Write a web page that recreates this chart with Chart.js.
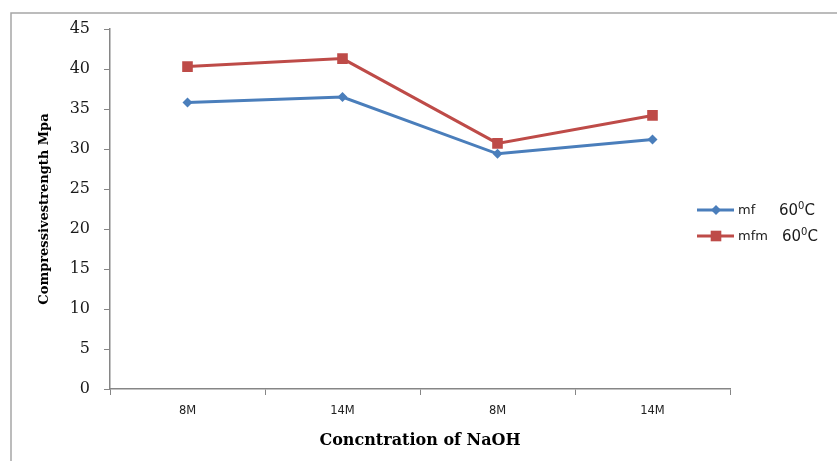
<!DOCTYPE html>
<html>
<head>
<meta charset="utf-8">
<script src="https://cdn.jsdelivr.net/npm/chart.js@4.4.1/dist/chart.umd.min.js"></script>
<style>
  html, body { margin: 0; padding: 0; background: #fff; }
  #wrap { width: 837px; height: 461px; position: relative; }
</style>
</head>
<body>
<div id="wrap"><canvas id="strength-chart" width="837" height="461"></canvas></div>
<script>
const categories = ["8M", "14M", "8M", "14M"];
const mfValues = [35.8, 36.5, 29.4, 31.2];
const mfmValues = [40.3, 41.3, 30.7, 34.2];
const seriesNames = ["mf", "mfm"];
const tempLabel = "60";

const blue = '#4A7EBB';
const red = '#BE4B48';
const axisGray = '#868686';

// frame around the chart (left + top edges only are visible in the picture)
const framePlugin = {
  id: 'frame',
  beforeDraw(chart) {
    const ctx = chart.ctx;
    ctx.save();
    ctx.fillStyle = '#fff';
    ctx.fillRect(0, 0, chart.width, chart.height);
    ctx.strokeStyle = '#a6a6a6';
    ctx.lineWidth = 1.5;
    ctx.beginPath();
    ctx.moveTo(11, chart.height + 2);
    ctx.lineTo(11, 13);
    ctx.lineTo(chart.width + 2, 13);
    ctx.stroke();
    ctx.restore();
  }
};

// legend drawn by hand so it can sit where the original one is
const legendPlugin = {
  id: 'handLegend',
  afterDraw(chart) {
    const ctx = chart.ctx;
    const rows = [
      { name: seriesNames[0], color: blue, style: 'rectRot', radius: 5, y: 210, tx: 779 },
      { name: seriesNames[1], color: red, style: 'rect', radius: 7.5, y: 236, tx: 782 }
    ];
    ctx.save();
    rows.forEach(r => {
      ctx.strokeStyle = r.color;
      ctx.lineWidth = 3;
      ctx.beginPath();
      ctx.moveTo(697, r.y);
      ctx.lineTo(734, r.y);
      ctx.stroke();
      ctx.fillStyle = r.color;
      Chart.helpers.drawPoint(ctx, { pointStyle: r.style, radius: r.radius, borderWidth: 0 }, 716, r.y);
      ctx.fillStyle = '#1a1a1a';
      ctx.textBaseline = 'middle';
      ctx.textAlign = 'left';
      ctx.font = '13px "DejaVu Sans", sans-serif';
      ctx.fillText(r.name, 738, r.y + 1);
      ctx.font = '15px "DejaVu Sans", sans-serif';
      ctx.fillText(tempLabel, r.tx, r.y + 1);
      let w = ctx.measureText(tempLabel).width;
      ctx.font = '10px "DejaVu Sans", sans-serif';
      ctx.fillText('0', r.tx + w, r.y - 4);
      let w2 = ctx.measureText('0').width;
      ctx.font = '15px "DejaVu Sans", sans-serif';
      ctx.fillText('C', r.tx + w + w2, r.y + 1);
    });
    ctx.restore();
  }
};

const strength_ctx = document.getElementById('strength-chart').getContext('2d');
const strengthChart = new Chart(strength_ctx, {
  plugins: [framePlugin, legendPlugin],
  type: 'line',
  data: {
    labels: categories,
    datasets: [{
      label: seriesNames[0],
      data: mfValues,
      borderColor: blue,
      backgroundColor: blue,
      borderWidth: 3,
      pointStyle: 'rectRot',
      pointRadius: 5,
      pointBorderWidth: 0,
      tension: 0
    }, {
      label: seriesNames[1],
      data: mfmValues,
      borderColor: red,
      backgroundColor: red,
      borderWidth: 3,
      pointStyle: 'rect',
      pointRadius: 7.5,
      pointBorderWidth: 0,
      tension: 0
    }]
  },
  options: {
    responsive: false,
    animation: false,
    layout: { padding: { left: 30, top: 29, right: 107, bottom: 0 } },
    plugins: {
      legend: { display: false },
      tooltip: { enabled: false }
    },
    scales: {
      x: {
        offset: true,
        grid: {
          offset: true,
          drawOnChartArea: false,
          drawTicks: true,
          tickLength: 6,
          color: axisGray
        },
        border: { color: axisGray, width: 1.5 },
        ticks: {
          color: '#222',
          font: { family: '"DejaVu Sans", sans-serif', size: 11.5 },
          padding: 9
        },
        title: {
          display: true,
          text: 'Concntration of NaOH',
          color: '#000',
          font: { family: '"DejaVu Serif", serif', size: 16, weight: 'bold' },
          padding: { top: 4, bottom: 11 }
        },
        afterFit(s) { s.height = 72; }
      },
      y: {
        min: 0,
        max: 45,
        ticks: {
          stepSize: 5,
          color: '#1a1a1a',
          font: { family: '"DejaVu Serif", serif', size: 16 },
          padding: 14
        },
        grid: {
          drawOnChartArea: false,
          drawTicks: true,
          tickLength: 6,
          color: axisGray
        },
        border: { color: axisGray, width: 1.5 },
        title: {
          display: true,
          text: 'Compressivestrength Mpa',
          color: '#000',
          font: { family: '"DejaVu Serif", serif', size: 13, weight: 'bold' },
          padding: { top: 7, bottom: 4 }
        },
        afterFit(s) { s.width = 80; }
      }
    }
  }
});
</script>
</body>
</html>
